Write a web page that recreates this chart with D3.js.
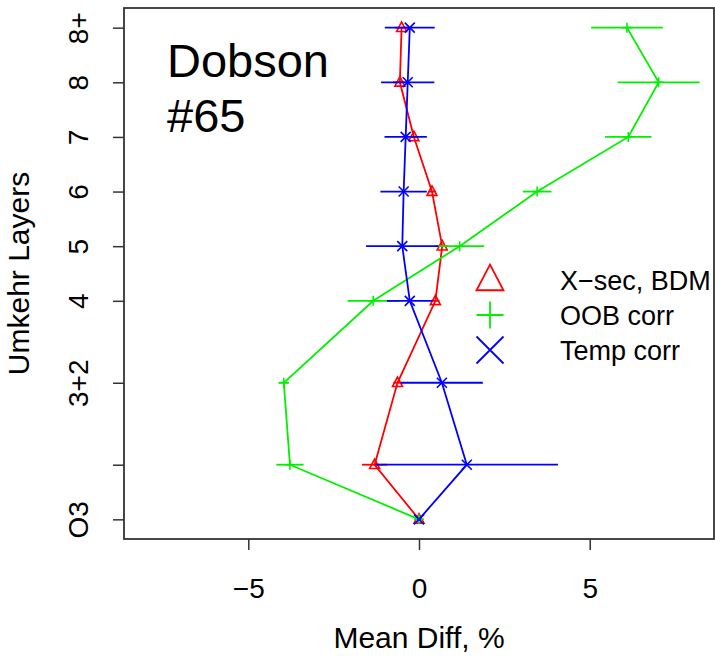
<!DOCTYPE html>
<html>
<head>
<meta charset="utf-8">
<script src="https://cdn.jsdelivr.net/npm/d3@7"></script>
<style>
  html, body { margin: 0; padding: 0; background: #fff; }
  svg { display: block; font-family: "Liberation Sans", Arial, sans-serif; }
</style>
</head>
<body>
<svg id="chart" width="715" height="658"></svg>
<script>
// Umkehr layer positions and labels
const layerPos    = [0, 1, 2.5, 4, 5, 6, 7, 8, 9];
const layerLabels = ["O3", "", "3+2", "4", "5", "6", "7", "8", "8+"];

// Mean differences (%) and half-widths of the error bars per layer
const xsecMean = [0, -1.30, -0.63, 0.48, 0.68, 0.38, -0.15, -0.56, -0.51];
const xsecErr  = [0.05, 0.37, 0.12, 0.12, 0.15, 0.12, 0.12, 0.2, 0.2];
const oobMean  = [0, -3.78, -3.96, -1.34, 1.19, 3.46, 6.13, 7.02, 6.09];
const oobErr   = [0.05, 0.4, 0.15, 0.75, 0.72, 0.42, 0.68, 1.2, 1.05];
const tempMean = [0, 1.40, 0.67, -0.27, -0.49, -0.45, -0.39, -0.33, -0.27];
const tempErr  = [0.05, 2.67, 1.2, 0.67, 1.06, 0.68, 0.62, 0.78, 0.73];

const xTicks = [-5, 0, 5];
const seriesNames = ["X\u2212sec, BDM", "OOB corr", "Temp corr"];

const svg = d3.select("#chart");
const box = { left: 124, right: 714, top: 8, bottom: 539 };
const FONT = "Liberation Sans, Arial, sans-serif";

const x = d3.scaleLinear().domain([-8.64, 8.64]).range([box.left, box.right]);
const y = d3.scaleLinear().domain([-0.36, 9.36]).range([box.bottom, box.top]);

// marker shapes
function triPath(s) {
  const h = s * 0.95;
  return `M0,${-h * 0.6}L${s / 2},${h * 0.4}L${-s / 2},${h * 0.4}Z`;
}
function plusPath(s) {
  const r = s / 2;
  return `M${-r},0H${r}M0,${-r}V${r}`;
}
function crossPath(s) {
  const r = s / 2;
  return `M${-r},${-r}L${r},${r}M${-r},${r}L${r},${-r}`;
}

const series = [
  { name: seriesNames[0], mean: xsecMean, err: xsecErr, color: "#ff0000", shape: triPath },
  { name: seriesNames[1], mean: oobMean,  err: oobErr,  color: "#00f000", shape: plusPath },
  { name: seriesNames[2], mean: tempMean, err: tempErr, color: "#0000ff", shape: crossPath }
];

const plot = svg.append("g");
const line = d3.line().x(d => x(d.v)).y(d => y(d.p));

series.forEach(s => {
  const pts = layerPos.map((p, i) => ({ p, v: s.mean[i], e: s.err[i] }));
  const g = plot.append("g");
  // error bars
  g.selectAll("line.err").data(pts).enter().append("line")
    .attr("x1", d => x(d.v - d.e)).attr("x2", d => x(d.v + d.e))
    .attr("y1", d => y(d.p)).attr("y2", d => y(d.p))
    .attr("stroke", s.color).attr("stroke-width", 1.8);
  // profile line
  g.append("path").datum(pts).attr("d", line)
    .attr("fill", "none").attr("stroke", s.color).attr("stroke-width", 1.8);
  // markers
  g.selectAll("path.m").data(pts).enter().append("path")
    .attr("transform", d => `translate(${x(d.v)},${y(d.p)})`)
    .attr("d", s.shape(10))
    .attr("fill", "none").attr("stroke", s.color).attr("stroke-width", 1.6);
});

// axes
const xAxis = d3.axisBottom(x).tickValues(xTicks).tickSize(11)
  .tickFormat(d => d < 0 ? "\u2212" + Math.abs(d) : d);
const gx = svg.append("g").attr("transform", `translate(0,${box.bottom})`).call(xAxis);
gx.select(".domain").remove();
gx.selectAll(".tick line").attr("stroke", "#333").attr("stroke-width", 1.5);
gx.selectAll(".tick text").attr("font-size", 28).attr("fill", "#000")
  .attr("font-family", FONT).attr("dy", null).attr("y", 59);

const yAxis = d3.axisLeft(y).tickValues(layerPos).tickSize(11)
  .tickFormat((d, i) => layerLabels[i]);
const gy = svg.append("g").attr("transform", `translate(${box.left},0)`).call(yAxis);
gy.select(".domain").remove();
gy.selectAll(".tick line").attr("stroke", "#333").attr("stroke-width", 1.5);
gy.selectAll(".tick text")
  .attr("font-size", 28).attr("fill", "#000")
  .attr("font-family", FONT)
  .attr("text-anchor", "middle").attr("dy", null).attr("x", null)
  .attr("transform", "translate(-36,0) rotate(-90)");

// plot frame
svg.append("rect")
  .attr("x", box.left).attr("y", box.top)
  .attr("width", box.right - box.left).attr("height", box.bottom - box.top)
  .attr("fill", "none").attr("stroke", "#333").attr("stroke-width", 1.8);

// axis titles
svg.append("text").attr("x", (box.left + box.right) / 2).attr("y", 648)
  .attr("text-anchor", "middle").attr("font-size", 30).text("Mean Diff, %");
svg.append("text")
  .attr("transform", `translate(29,${(box.top + box.bottom) / 2}) rotate(-90)`)
  .attr("text-anchor", "middle").attr("font-size", 30).text("Umkehr Layers");

// station label
const lab = svg.append("text").attr("font-size", 47).attr("fill", "#000");
lab.append("tspan").attr("x", 167).attr("y", 77).text("Dobson");
lab.append("tspan").attr("x", 167).attr("y", 132).text("#65");

// legend
const legend = svg.append("g");
series.forEach((s, i) => {
  const ly = 280 + i * 35;
  legend.append("path")
    .attr("transform", `translate(490,${ly})`)
    .attr("d", s.shape(27))
    .attr("fill", "none").attr("stroke", s.color).attr("stroke-width", 1.8);
  legend.append("text").attr("x", 560).attr("y", ly + 9.5)
    .attr("font-size", 27).attr("fill", "#000").text(s.name);
});
</script>
</body>
</html>
